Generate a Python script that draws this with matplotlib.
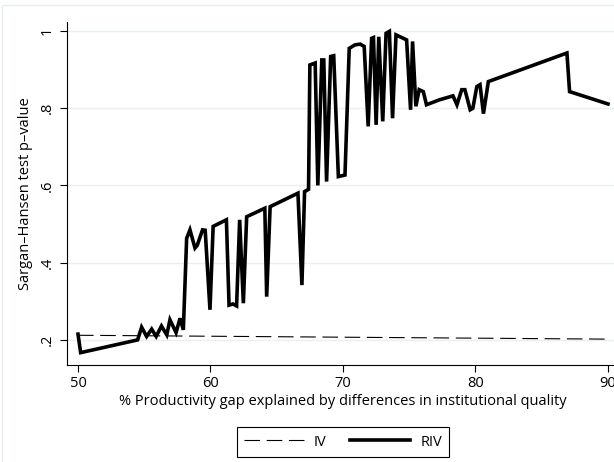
import matplotlib
matplotlib.use("Agg")
import matplotlib.pyplot as plt
from matplotlib.patches import Rectangle

plt.rcParams["font.family"] = ["Open Sans", "DejaVu Sans"]

# share of the productivity gap explained by institutional quality (%)
iv_gap = [50.0, 90.0]
iv_pval = [0.212, 0.202]

riv_gap = [
    50.0, 50.2, 54.5, 54.8, 55.18, 55.56, 55.9, 56.3, 56.7, 56.94, 57.4,
    57.7, 57.95, 58.2, 58.45, 58.83, 59.0, 59.4, 59.6, 59.96, 60.2, 61.2,
    61.4, 61.7, 61.97, 62.2, 62.48, 62.73, 64.1, 64.24, 64.5, 66.6, 66.9,
    67.1, 67.4, 67.5, 67.9, 68.1, 68.4, 68.55, 68.76, 69.07, 69.3, 69.65,
    70.15, 70.47, 70.9, 71.3, 71.6, 71.9, 72.16, 72.3, 72.5, 72.7, 73.0,
    73.25, 73.5, 73.74, 74.0, 74.8, 75.1, 75.25, 75.5, 75.75, 76.06, 76.3,
    77.3, 78.3, 78.6, 78.96, 79.2, 79.6, 79.8, 80.1, 80.34, 80.6, 80.97,
    86.9, 87.1, 90.0,
]
riv_pval = [
    0.215, 0.167, 0.200, 0.233, 0.209, 0.228, 0.209, 0.236, 0.213, 0.252, 0.219,
    0.256, 0.226, 0.463, 0.485, 0.438, 0.445, 0.485, 0.484, 0.278, 0.494, 0.511,
    0.290, 0.293, 0.288, 0.511, 0.295, 0.519, 0.541, 0.312, 0.545, 0.580, 0.342,
    0.584, 0.590, 0.912, 0.917, 0.600, 0.925, 0.925, 0.610, 0.934, 0.936, 0.623,
    0.627, 0.955, 0.964, 0.966, 0.960, 0.753, 0.981, 0.983, 0.757, 0.985, 0.766,
    0.994, 0.999, 0.774, 0.990, 0.977, 0.796, 0.973, 0.805, 0.848, 0.843, 0.809,
    0.822, 0.832, 0.809, 0.848, 0.848, 0.796, 0.800, 0.856, 0.861, 0.786, 0.869,
    0.943, 0.843, 0.811,
]

y_ticks = [0.2, 0.4, 0.6, 0.8, 1.0]
y_ticklabels = [".2", ".4", ".6", ".8", "1"]
x_ticks = [50, 60, 70, 80, 90]

fs = 10.5

fig = plt.figure(figsize=(6.14, 4.62), dpi=100)
fig.patch.set_facecolor("white")

# faint outer frame of the graph region
fig.patches.append(Rectangle((2 / 614, -0.1), 1.2, 1 - 5 / 462 + 0.1,
                             transform=fig.transFigure, fill=False,
                             edgecolor="#e6eef1", linewidth=1.0))

ax = fig.add_axes([67 / 614, 97 / 462, 552 / 614, 343 / 462])

ax.plot(iv_gap, iv_pval, color="black", linewidth=0.8,
        dashes=(14, 6), label="IV")
ax.plot(riv_gap, riv_pval, color="black", linewidth=2.6,
        solid_joinstyle="miter", label="RIV")

ax.set_xlim(49.17, 49.17 + 552 / 13.25)
ax.set_ylim(0.135, 1.0233)

ax.set_xticks(x_ticks)
ax.set_yticks(y_ticks)
ax.set_yticklabels(y_ticklabels, rotation=90, va="center")
ax.tick_params(axis="both", direction="out", length=5, width=0.8,
               labelsize=fs, color="black")
ax.tick_params(axis="y", pad=4)
ax.tick_params(axis="x", pad=3)

ax.grid(axis="y", color="#e8f0f2", linewidth=1.0)
ax.set_axisbelow(True)
for side in ("top", "right"):
    ax.spines[side].set_visible(False)
for side in ("left", "bottom"):
    ax.spines[side].set_linewidth(0.8)

ax.set_xlabel("% Productivity gap explained by differences in institutional quality",
              fontsize=fs, labelpad=2)
ax.set_ylabel("Sargan\u2013Hansen test p\u2013value", fontsize=fs, labelpad=5)

handles, labels = ax.get_legend_handles_labels()
leg = fig.legend(handles, labels, loc="center", ncol=2,
                 bbox_to_anchor=(343 / 614, 1 - 442 / 462),
                 fontsize=fs, frameon=True, fancybox=False,
                 edgecolor="black", framealpha=1, handlelength=4.1,
                 handletextpad=0.7, columnspacing=1.6, borderpad=0.5,
                 borderaxespad=0)
leg.get_frame().set_linewidth(0.8)

fig.savefig("out.png", dpi=100)
plt.close(fig)
